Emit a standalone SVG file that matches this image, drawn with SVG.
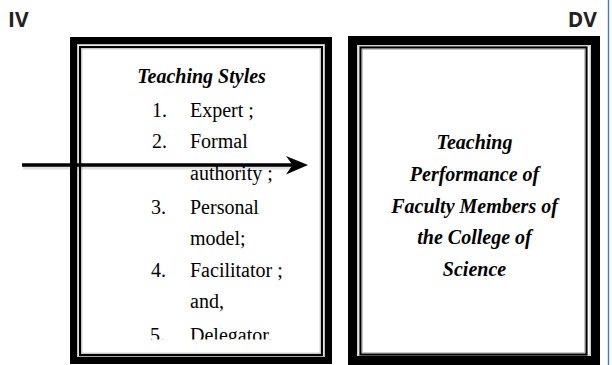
<svg xmlns="http://www.w3.org/2000/svg" width="612" height="365" viewBox="0 0 612 365">
  <style>
    .tag { font-family: "Open Sans", "Liberation Sans", sans-serif; font-weight: 700; font-size: 21px; fill: #222; }
    .title { font-family: "Liberation Serif", "Times New Roman", serif; font-weight: 700; font-style: italic; font-size: 20px; fill: #000; }
    .item { font-family: "Liberation Serif", "Times New Roman", serif; font-size: 20px; fill: #000; }
    .thick { fill: none; stroke: #000; }
    .thin { fill: none; stroke: #000; stroke-width: 2.2; }
    .halo { fill: none; stroke: #b8b8b8; stroke-width: 1; }
  </style>
  <defs>
    <clipPath id="listClip">
      <rect x="84" y="50" width="236" height="289.5"/>
    </clipPath>
  </defs>

  <rect x="0" y="0" width="612" height="365" fill="#fff"/>
  <!-- page edge rule -->
  <line x1="608.5" y1="0" x2="608.5" y2="365" stroke="#3f7db8" stroke-width="1.4"/>

  <text class="tag" x="8" y="27">IV</text>
  <text class="tag" x="597" y="27" text-anchor="end">DV</text>

  <!-- independent variable -->
  <g id="iv-box">
    <rect class="thick" x="73.5" y="40.5" width="255" height="320" stroke-width="7"/>
    <rect class="halo" x="77.5" y="44.5" width="247" height="312"/>
    <rect class="thin" x="80" y="47" width="242" height="308"/>
    <rect class="halo" x="81.8" y="48.8" width="238.4" height="304.4"/>
    <text class="title" x="201.5" y="83" text-anchor="middle">Teaching Styles</text>
    <g clip-path="url(#listClip)">
      <text class="item" x="152" y="117">1.</text>
      <text class="item" x="190" y="117">Expert ;</text>
      <text class="item" x="152" y="148">2.</text>
      <text class="item" x="190" y="148">Formal</text>
      <text class="item" x="190" y="180">authority ;</text>
      <text class="item" x="151" y="214">3.</text>
      <text class="item" x="190" y="214">Personal</text>
      <text class="item" x="190" y="245">model;</text>
      <text class="item" x="151" y="277">4.</text>
      <text class="item" x="190" y="277">Facilitator ;</text>
      <text class="item" x="190" y="308">and,</text>
      <text class="item" x="150" y="341.5">5.</text>
      <text class="item" x="190" y="341.5">Delegator.</text>
    </g>
  </g>

  <!-- dependent variable -->
  <g id="dv-box">
    <rect class="thick" x="352.5" y="40.5" width="243" height="320" stroke-width="9"/>
    <rect class="halo" x="357.8" y="45.8" width="232.4" height="309.4"/>
    <rect class="thin" x="360.5" y="47.5" width="226" height="307"/>
    <rect class="halo" x="362.3" y="49.3" width="222.4" height="303.4"/>
    <text class="title" x="474.5" y="149" text-anchor="middle">Teaching</text>
    <text class="title" x="474.5" y="181" text-anchor="middle">Performance of</text>
    <text class="title" x="474.5" y="213" text-anchor="middle">Faculty Members of</text>
    <text class="title" x="474.5" y="244" text-anchor="middle">the College of</text>
    <text class="title" x="474.5" y="276" text-anchor="middle">Science</text>
  </g>

  <!-- connector -->
  <g id="connectors">
    <line x1="23" y1="167.5" x2="292" y2="167.5" stroke="#000" stroke-opacity="0.12" stroke-width="4"/>
    <line x1="22" y1="165" x2="294" y2="165" stroke="#000" stroke-width="3.6"/>
    <path d="M308,165 L286,156 L292.5,165 L286,174.5 Z" fill="#000"/>
  </g>
</svg>
